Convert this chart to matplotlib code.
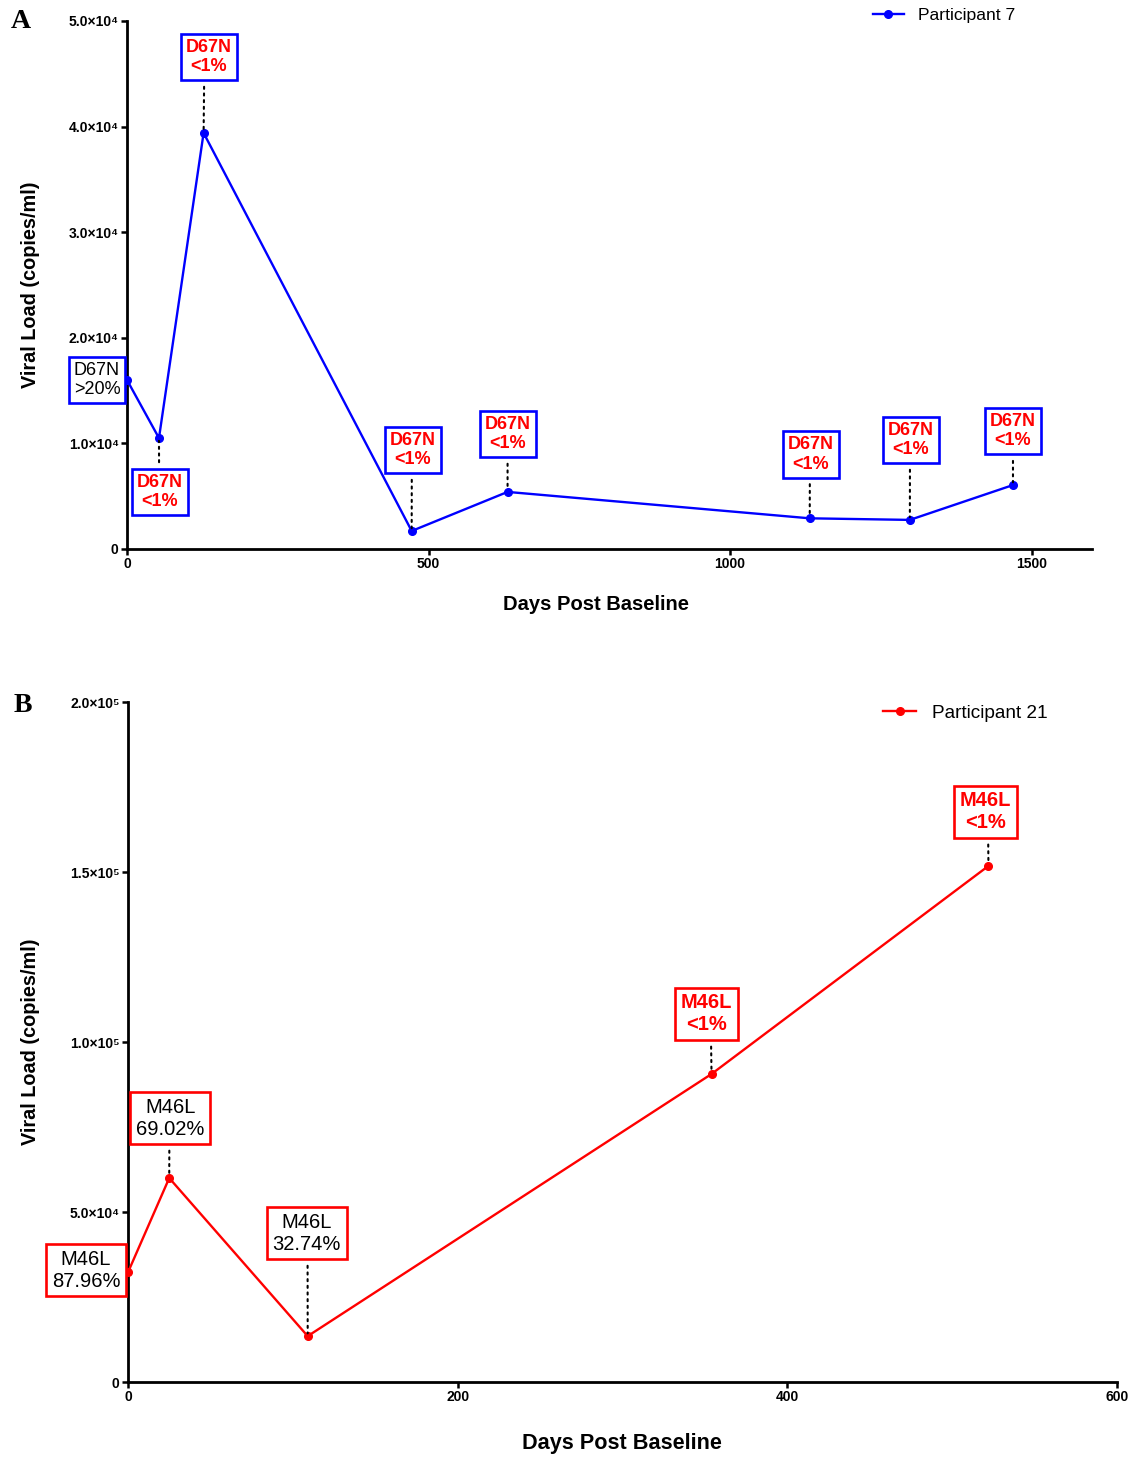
"""
Viral load over time for two participants, with drug-resistance
mutation frequencies annotated at each sampling point.
"""

import matplotlib
matplotlib.use("Agg")
import matplotlib.pyplot as plt
from matplotlib.ticker import FixedLocator, FuncFormatter

plt.rcParams['font.family'] = ['Liberation Sans', 'DejaVu Sans']

# Panel A - participant 7
days_a = [0, 53, 127, 472, 631, 1132, 1298, 1469]
vl_a = [16000, 10500, 39400, 1700, 5400, 2900, 2750, 6050]
mut_a = ["D67N"] * 8
freq_a = [">20%", "<1%", "<1%", "<1%", "<1%", "<1%", "<1%", "<1%"]

# Panel B - participant 21
days_b = [0, 25, 109, 354, 522]
vl_b = [32300, 60000, 13500, 90600, 151800]
mut_b = ["M46L"] * 5
freq_b = ["87.96%", "69.02%", "32.74%", "<1%", "<1%"]

xticks_a = [0, 500, 1000, 1500]
yticks_a = [0, 10000, 20000, 30000, 40000, 50000]
xticks_b = [0, 200, 400, 600]
yticks_b = [0, 50000, 100000, 150000, 200000]

SUP = {"4": "\u2074", "5": "\u2075"}


def sci_label(v, pos=None):
    if v == 0:
        return "0"
    exp = len(str(int(v))) - 1
    mant = v / 10 ** exp
    return f"{mant:.1f}\u00d710{SUP[str(exp)]}"


def draw_panel(ax, days, vl, muts, freqs, offsets, color, label,
               xticks, yticks, xmax, ymax, box_fs, legend_fs, xlabel_fs,
               leg_anchor):
    ax.plot(days, vl, color=color, lw=1.7, marker='o', ms=5.5,
            label=label, clip_on=False, zorder=3)

    for d, v, m, f, (dx, dy, lead) in zip(days, vl, muts, freqs, offsets):
        low = f.startswith("<")
        txt_color = 'red' if low else 'black'
        weight = 'bold' if low else 'normal'
        arrow = None
        if lead:
            # dotted leader kept vertical above/below the point
            box_w = box_fs * 1.389 * (2.9 if low else 3.9)
            rel = (0.5 - dx / box_w, 0.0 if dy > 0 else 1.0)
            arrow = dict(arrowstyle='-', ls=(0, (1, 2.2)), color='black',
                         lw=1.5, shrinkA=4, shrinkB=2, relpos=rel)
        ax.annotate(f"{m}\n{f}", xy=(d, v), xytext=(dx, dy),
                    textcoords='offset pixels', ha='center', va='center',
                    fontsize=box_fs, color=txt_color, fontweight=weight,
                    linespacing=1.2,
                    bbox=dict(boxstyle='square,pad=0.28', fc='white',
                              ec=color, lw=1.9),
                    arrowprops=arrow, zorder=5, annotation_clip=False)

    ax.set_xlim(0, xmax)
    ax.set_ylim(0, ymax)
    ax.spines['top'].set_visible(False)
    ax.spines['right'].set_visible(False)
    for s in ('left', 'bottom'):
        ax.spines[s].set_linewidth(2.0)
    ax.xaxis.set_major_locator(FixedLocator(xticks))
    ax.yaxis.set_major_locator(FixedLocator(yticks))
    ax.yaxis.set_major_formatter(FuncFormatter(sci_label))
    ax.tick_params(direction='out', length=4, width=1.8, labelsize=10,
                   pad=2)
    for t in ax.get_xticklabels() + ax.get_yticklabels():
        t.set_fontweight('bold')

    ax.set_xlabel("Days Post Baseline", fontsize=xlabel_fs,
                  fontweight='bold')
    ax.set_ylabel("Viral Load (copies/ml)", fontsize=14.3,
                  fontweight='bold')

    ax.legend(loc='center left', bbox_to_anchor=leg_anchor,
              bbox_transform=ax.figure.transFigure, frameon=False,
              fontsize=legend_fs, handlelength=1.75, handletextpad=0.8,
              borderaxespad=0, borderpad=0)


fig = plt.figure(figsize=(11.33, 14.58), dpi=100)
ax_a = fig.add_axes([0.1121, 0.6235, 0.8517, 0.3621])
ax_b = fig.add_axes([0.1130, 0.0521, 0.8729, 0.4664])

# (dx, dy, dotted leader) in pixels from each point to its label box
offs_a = [(-30, 0, False), (1, -54, True), (5, 76, True), (1, 81, True),
          (0, 58, True), (1, 64, True), (1, 80, True), (0, 54, True)]
offs_b = [(-42, 2, False), (1, 60, True), (-1, 103, True), (-5, 60, True),
          (-3, 54, True)]

draw_panel(ax_a, days_a, vl_a, mut_a, freq_a, offs_a, 'blue',
           "Participant 7", xticks_a, yticks_a, 1600, 50000,
           13, 12.6, 14.5, (873 / 1133, 1 - 15 / 1458))
draw_panel(ax_b, days_b, vl_b, mut_b, freq_b, offs_b, 'red',
           "Participant 21", xticks_b, yticks_b, 600, 200000,
           14.5, 13.7, 15.6, (883 / 1133, 1 - 713 / 1458))

ax_a.xaxis.set_label_coords(0.486, -0.106)
ax_a.xaxis.label.set_va('center')
ax_a.yaxis.set_label_coords(-0.090, 0.5)
ax_b.xaxis.set_label_coords(0.4995, -0.0897)
ax_b.xaxis.label.set_va('center')
ax_b.yaxis.set_label_coords(-0.089, 0.5)

fig.text(21 / 1133, 1 - 22 / 1458, "A", fontsize=20, fontweight='bold',
         family=['Liberation Serif', 'DejaVu Serif'], ha='center',
         va='center')
fig.text(23 / 1133, 1 - 705 / 1458, "B", fontsize=20, fontweight='bold',
         family=['Liberation Serif', 'DejaVu Serif'], ha='center',
         va='center')

fig.savefig("out.png", dpi=100)
